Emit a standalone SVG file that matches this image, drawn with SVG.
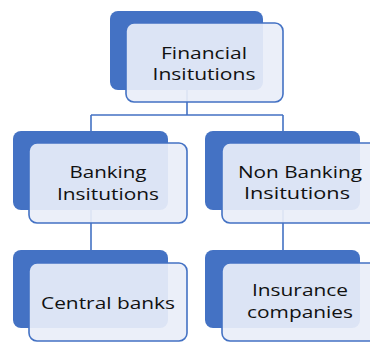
<svg xmlns="http://www.w3.org/2000/svg" width="370" height="342" viewBox="0 0 370 342">
<style>
.back{fill:#4472c4}
.front{fill:#e9eef8;fill-opacity:0.92;stroke:#4472c4;stroke-width:1.6}
.lbl{font-family:"Open Sans",sans-serif;font-size:17px;fill:#111111;text-anchor:middle}
.con{fill:none;stroke:#4472c4;stroke-width:1.6}
</style>
<rect width="370" height="342" fill="#ffffff"/>
<g id="connectors">
<path class="con" d="M187,90 V115 M91,115 H283 M91,115 V131 M283,115 V131 M91,210 V250 M283,210 V250"/>
</g>
<g id="financial">
<rect class="back" x="110" y="11" width="153" height="79" rx="8"/>
<rect class="front" x="126" y="23" width="157" height="79" rx="8"/>
<text class="lbl" x="204" y="59" textLength="86" lengthAdjust="spacingAndGlyphs">Financial</text>
<text class="lbl" x="204" y="80" textLength="103" lengthAdjust="spacingAndGlyphs">Insitutions</text>
</g>
<g id="banking">
<rect class="back" x="13" y="131" width="155" height="79" rx="8"/>
<rect class="front" x="29" y="143" width="158" height="80" rx="8"/>
<text class="lbl" x="108" y="178" textLength="77" lengthAdjust="spacingAndGlyphs">Banking</text>
<text class="lbl" x="108" y="200" textLength="102" lengthAdjust="spacingAndGlyphs">Insitutions</text>
</g>
<g id="nonbanking">
<rect class="back" x="205" y="131" width="155" height="79" rx="8"/>
<rect class="front" x="222" y="143" width="158" height="80" rx="8"/>
<text class="lbl" x="300" y="178" textLength="124" lengthAdjust="spacingAndGlyphs">Non Banking</text>
<text class="lbl" x="297" y="199" textLength="106" lengthAdjust="spacingAndGlyphs">Insitutions</text>
</g>
<g id="central">
<rect class="back" x="13" y="250" width="155" height="78" rx="8"/>
<rect class="front" x="29" y="263" width="158" height="78" rx="8"/>
<text class="lbl" x="108" y="309" textLength="134" lengthAdjust="spacingAndGlyphs">Central banks</text>
</g>
<g id="insurance">
<rect class="back" x="205" y="250" width="155" height="78" rx="8"/>
<rect class="front" x="222" y="263" width="158" height="78" rx="8"/>
<text class="lbl" x="300" y="296" textLength="96" lengthAdjust="spacingAndGlyphs">Insurance</text>
<text class="lbl" x="300" y="318" textLength="106" lengthAdjust="spacingAndGlyphs">companies</text>
</g>
</svg>
